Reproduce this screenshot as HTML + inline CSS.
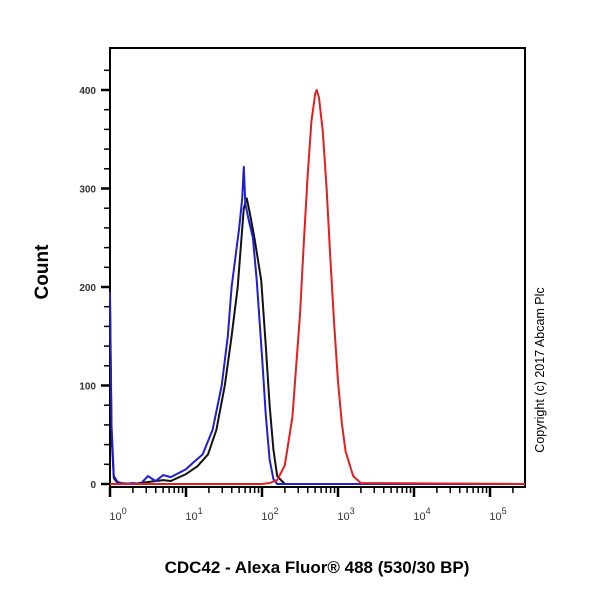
<!DOCTYPE html>
<html><head><meta charset="utf-8"><style>
body{margin:0;background:#fff;}
svg text{font-family:"Liberation Sans",Arial,sans-serif;}
</style></head><body>
<svg id="chart" width="600" height="600" viewBox="0 0 600 600" xmlns="http://www.w3.org/2000/svg">
<g id="axes"></g>
<g id="series"></g>
<text x="48" y="272" transform="rotate(-90 48 272)" text-anchor="middle" font-size="19" font-weight="bold">Count</text>
<text x="317" y="573" text-anchor="middle" font-size="17" font-weight="bold">CDC42 - Alexa Fluor® 488 (530/30 BP)</text>
<text x="544" y="370" transform="rotate(-90 544 370)" text-anchor="middle" font-size="12.5">Copyright (c) 2017 Abcam Plc</text>
</svg>
<script>
const yTicks=[0,100,200,300,400];
const xDecades=[0,1,2,3,4,5];
const blueLog=[0,0.02,0.05,0.1,0.2,0.3,0.4,0.5,0.6,0.7,0.8,1.0,1.1,1.22,1.35,1.47,1.55,1.6,1.65,1.7,1.74,1.76,1.78,1.82,1.88,1.93,2.0,2.05,2.1,2.15,2.2,2.5,5.46];
const blueVal=[195,60,8,2,0,1,0,8,3,9,7,15,22,30,55,100,150,200,230,260,290,322,285,270,250,207,130,70,25,5,0,0,0];
const blackLog=[0,0.02,0.05,0.1,0.3,0.5,0.7,0.8,1.0,1.15,1.29,1.4,1.51,1.6,1.68,1.73,1.76,1.8,1.84,1.9,1.99,2.05,2.1,2.15,2.2,2.3,2.5,5.46];
const blackVal=[180,50,6,1,0,2,4,3,10,18,30,55,100,150,200,250,280,290,275,250,207,140,80,35,8,0,0,0];
const redLog=[0,2.0,2.1,2.2,2.3,2.4,2.5,2.55,2.6,2.65,2.7,2.72,2.75,2.8,2.85,2.9,2.95,3.0,3.05,3.1,3.2,3.3,5.46];
const redVal=[0,0,1,4,19,68,172,245,312,368,396,400,392,358,300,228,162,104,62,33,8,1,0];
const X0=110,XD=76,Y0=484,YS=0.985,XR=525,YT=48;
const xs=l=>X0+XD*l, ys=v=>Y0-v*YS;
const NS='http://www.w3.org/2000/svg';
function mk(t,a,p){const e=document.createElementNS(NS,t);for(const k in a)e.setAttribute(k,a[k]);p.appendChild(e);return e;}
const ax=document.getElementById('axes');
const frame=mk('path',{d:`M${X0} ${YT}H${XR}V487H${X0}Z`,fill:'none',stroke:'#000','stroke-width':2},ax);


for(let v=0;v<=420;v+=20){const major=v%100===0;
 const t=mk('line',{x1:major?X0-9:X0-6,x2:X0,y1:ys(v),y2:ys(v),stroke:'#000','stroke-width':major?2.5:1.5},ax);
 }
yTicks.forEach(v=>{const t=mk('text',{x:X0-14,y:ys(v)+4,'text-anchor':'end','font-size':10,'font-weight':'bold',fill:'#333'},ax);t.textContent=v;
 });
for(let d=0;d<=5;d++){for(let m=1;m<=9;m++){const l=d+Math.log10(m);if(xs(l)>XR)break;
 const t=mk('line',{x1:xs(l),x2:xs(l),y1:487,y2:m===1?497:493,stroke:'#000','stroke-width':m===1?2.5:1.5},ax);
 }}
xDecades.forEach(d=>{const g=mk('text',{x:xs(d)+8,y:520,'text-anchor':'middle','font-size':11,fill:'#333'},ax);
 
 g.textContent='10';const s=mk('tspan',{dy:-6,'font-size':9},g);s.textContent=d;});
const se=document.getElementById('series');
function line(L,V,c,n){const d=L.map((l,i)=>(i?'L':'M')+xs(l).toFixed(1)+' '+ys(V[i]).toFixed(1)).join('');
 const p=mk('path',{d,fill:'none',stroke:c,'stroke-width':2,'stroke-linejoin':'round'},se);
 }
line(blackLog,blackVal,'#111','isotype-black-curve');
line(blueLog,blueVal,'#1f1fd0','unstained-blue-curve');
line(redLog,redVal,'#e02020','cdc42-red-curve');
</script>
</body></html>
